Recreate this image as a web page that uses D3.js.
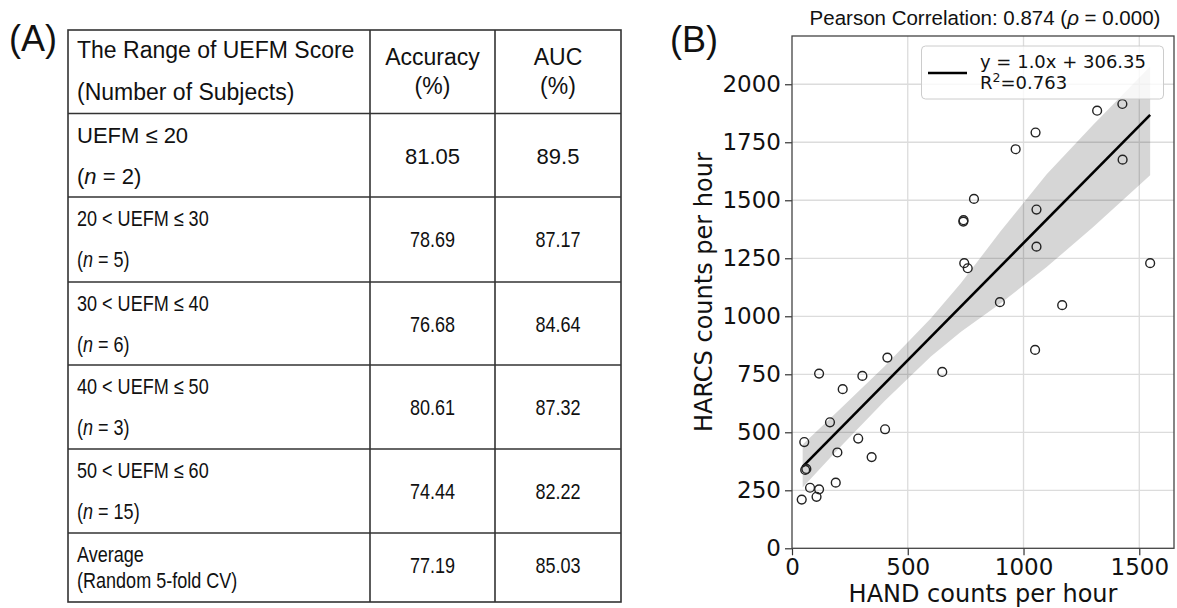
<!DOCTYPE html>
<html>
<head>
<meta charset="utf-8">
<script src="https://cdn.jsdelivr.net/npm/d3@7"></script>
<style>
  body { margin: 0; background: #fff; }
  .tbl text { font-family: "Liberation Sans", Arial, Helvetica, sans-serif; font-size: 22px; fill: #111; }
  .ax text, text.ax { font-family: "DejaVu Sans", sans-serif; }
</style>
</head>
<body>
<script>
// ---- table (A) data ----
const rangeLabels = ['UEFM ≤ 20', '20 < UEFM ≤ 30', '30 < UEFM ≤ 40', '40 < UEFM ≤ 50', '50 < UEFM ≤ 60'];
const subjectCounts = [2, 5, 6, 3, 15];
const accuracy = [81.05, 78.69, 76.68, 80.61, 74.44, 77.19];
const auc = [89.5, 87.17, 84.64, 87.32, 82.22, 85.03];

// ---- scatter (B) data ----
const handCounts  = [42, 57, 62, 53, 78, 106, 117, 117, 164, 196, 189, 219, 286, 304, 344, 402, 412, 649,
                     966, 1428, 786, 740, 741, 1056, 1056, 744, 759, 1547, 898, 1167, 1050, 1318, 1427, 1052];
const harcsCounts = [210, 338, 342, 458, 261, 222, 254, 753, 543, 413, 283, 686, 473, 743, 393, 513, 822, 760,
                     1720, 1675, 1506, 1408, 1414, 1460, 1300, 1229, 1207, 1229, 1061, 1048, 855, 1886, 1915, 1792];
// regression line ends and confidence band
const fitX = [46, 1547];
const fitY = [352, 1868];
const bandX  = [46, 200, 400, 600, 730, 900, 1100, 1300, 1547];
const bandHi = [447, 593, 785, 992, 1143, 1365, 1612, 1824, 2077];
const bandLo = [262, 428, 635, 827, 933, 1055, 1212, 1384, 1608];
const fitSlope = 1.0, fitIntercept = 306.35, fitR2 = 0.763;
const pearsonR = 0.874, pearsonP = 0.000;
const xTicks = [0, 500, 1000, 1500];
const yTicks = [0, 250, 500, 750, 1000, 1250, 1500, 1750, 2000];

const svg = d3.select('body').append('svg')
  .attr('width', 1177).attr('height', 608);

// ================= (A) table =================
let tbl = svg.append('g').attr('class', 'tbl');
let colX = [68, 370, 495, 621];
let rowY = [30, 113.5, 197, 282, 365, 449, 533, 602];

tbl.append('text').attr('x', 9).attr('y', 51)
  .style('font-size', '36px').text('(A)');

tbl.append('rect')
  .attr('x', colX[0]).attr('y', rowY[0])
  .attr('width', colX[3] - colX[0]).attr('height', rowY[7] - rowY[0])
  .attr('fill', 'none').attr('stroke', '#333').attr('stroke-width', 1.6);
tbl.selectAll('line.v').data([colX[1], colX[2]]).enter().append('line')
  .attr('x1', d => d).attr('x2', d => d).attr('y1', rowY[0]).attr('y2', rowY[7])
  .attr('stroke', '#333').attr('stroke-width', 1.6);
tbl.selectAll('line.h').data(rowY.slice(1, 7)).enter().append('line')
  .attr('x1', colX[0]).attr('x2', colX[3]).attr('y1', d => d).attr('y2', d => d)
  .attr('stroke', '#333').attr('stroke-width', 1.6);

let c1 = (colX[1] + colX[2]) / 2;
let c2 = (colX[2] + colX[3]) / 2;

// header
tbl.append('text').attr('x', 77).attr('y', 58).style('font-size', '23px').text('The Range of UEFM Score');
tbl.append('text').attr('x', 77).attr('y', 100).style('font-size', '23px').text('(Number of Subjects)');
tbl.append('text').attr('x', c1).attr('y', 65).attr('text-anchor', 'middle').style('font-size', '23px').text('Accuracy');
tbl.append('text').attr('x', c1).attr('y', 94).attr('text-anchor', 'middle').style('font-size', '23px').text('(%)');
tbl.append('text').attr('x', c2).attr('y', 65).attr('text-anchor', 'middle').style('font-size', '23px').text('AUC');
tbl.append('text').attr('x', c2).attr('y', 94).attr('text-anchor', 'middle').style('font-size', '23px').text('(%)');

// body rows (rows after the first are narrower in the original)
function put(g, x, y, sx, anchor) {
  return g.append('text')
    .attr('transform', `translate(${x},${y}) scale(${sx},1)`)
    .attr('text-anchor', anchor || 'start');
}
for (let i = 0; i < rangeLabels.length; i++) {
  let rowTop = rowY[i + 1];
  let sx = i == 0 ? 1 : 0.82;
  put(tbl, 77, rowTop + 29, sx).text(rangeLabels[i]);
  let t = put(tbl, 77, rowTop + 70, sx);
  t.append('tspan').text('(');
  t.append('tspan').style('font-style', 'italic').text('n');
  t.append('tspan').text(' = ' + subjectCounts[i] + ')');
  put(tbl, c1, rowTop + 50, sx, 'middle').text(String(accuracy[i]));
  put(tbl, c2, rowTop + 50, sx, 'middle').text(String(auc[i]));
}
let lastTop = rowY[6];
put(tbl, 77, lastTop + 29, 0.82).text('Average');
put(tbl, 77, lastTop + 55, 0.82).text('(Random 5-fold CV)');
put(tbl, c1, lastTop + 40, 0.82, 'middle').text(String(accuracy[5]));
put(tbl, c2, lastTop + 40, 0.82, 'middle').text(String(auc[5]));

// ================= (B) scatter =================
let pLeft = 792, pRight = 1174, pTop = 36, pBottom = 548.3;
let xScale = d3.scaleLinear().domain([0, 1650]).range([pLeft, pRight]);
let yScale = d3.scaleLinear().domain([0, 2208]).range([pBottom, pTop]);

svg.append('text').attr('x', 670).attr('y', 52)
  .style('font-family', '"Liberation Sans", Arial, sans-serif')
  .style('font-size', '36px').attr('fill', '#111').text('(B)');

let title = svg.append('text').attr('x', 985).attr('y', 25)
  .attr('text-anchor', 'middle')
  .style('font-family', '"Liberation Sans", Arial, sans-serif')
  .style('font-size', '20.5px').attr('fill', '#111');
title.append('tspan').text('Pearson Correlation: ' + pearsonR.toFixed(3) + ' (');
title.append('tspan').style('font-style', 'italic').text('ρ');
title.append('tspan').text(' = ' + pearsonP.toFixed(3) + ')');

// grid
let grid = svg.append('g');
grid.selectAll('line.gx').data(xTicks.slice(1)).enter().append('line')
  .attr('x1', d => xScale(d)).attr('x2', d => xScale(d)).attr('y1', pTop).attr('y2', pBottom)
  .attr('stroke', '#dcdcdc').attr('stroke-width', 1.3);
grid.selectAll('line.gy').data(yTicks.slice(1)).enter().append('line')
  .attr('y1', d => yScale(d)).attr('y2', d => yScale(d)).attr('x1', pLeft).attr('x2', pRight)
  .attr('stroke', '#dcdcdc').attr('stroke-width', 1.3);

// confidence band
let band = bandX.map((x, i) => ({x: x, lo: bandLo[i], hi: bandHi[i]}));
svg.append('path').datum(band)
  .attr('d', d3.area().x(d => xScale(d.x)).y0(d => yScale(d.lo)).y1(d => yScale(d.hi)))
  .attr('fill', '#000').attr('fill-opacity', 0.16);

// fit line
svg.append('path').datum(fitX.map((x, i) => [x, fitY[i]]))
  .attr('d', d3.line().x(d => xScale(d[0])).y(d => yScale(d[1])))
  .attr('stroke', '#000').attr('stroke-width', 2.6).attr('fill', 'none');

// points
svg.append('g').selectAll('circle')
  .data(handCounts.map((x, i) => ({x: x, y: harcsCounts[i]})))
  .enter().append('circle')
    .attr('cx', d => xScale(d.x)).attr('cy', d => yScale(d.y)).attr('r', 4.4)
    .attr('fill', 'none').attr('stroke', '#222').attr('stroke-width', 1.4);

// axes
let xAxis = d3.axisBottom(xScale).tickValues(xTicks).tickFormat(d3.format('d'))
  .tickSize(7).tickPadding(3);
svg.append('g').attr('class', 'ax')
  .attr('transform', `translate(0, ${pBottom})`)
  .call(xAxis)
  .call(g => g.select('.domain').remove())
  .selectAll('text').style('font-size', '23px').attr('fill', '#111');
let yAxis = d3.axisLeft(yScale).tickValues(yTicks).tickFormat(d3.format('d'))
  .tickSize(7).tickPadding(4);
svg.append('g').attr('class', 'ax')
  .attr('transform', `translate(${pLeft}, 0)`)
  .call(yAxis)
  .call(g => g.select('.domain').remove())
  .selectAll('text').style('font-size', '23px').attr('fill', '#111');
svg.selectAll('.ax .tick line').attr('stroke', '#333').attr('stroke-width', 1.2);

svg.append('rect')
  .attr('x', pLeft).attr('y', pTop).attr('width', pRight - pLeft).attr('height', pBottom - pTop)
  .attr('fill', 'none').attr('stroke', '#444').attr('stroke-width', 1.3);

svg.append('text').attr('class', 'ax')
  .attr('x', 983).attr('y', 601.5).attr('text-anchor', 'middle')
  .style('font-size', '24px').attr('fill', '#111').text('HAND counts per hour');
svg.append('text').attr('class', 'ax')
  .attr('transform', `translate(712, ${(pTop + pBottom) / 2}) rotate(-90)`)
  .attr('text-anchor', 'middle')
  .style('font-size', '24px').attr('fill', '#111').text('HARCS counts per hour');

// legend
let lg = svg.append('g').attr('class', 'ax');
lg.append('rect').attr('x', 921.5).attr('y', 46).attr('width', 242).attr('height', 53).attr('rx', 4)
  .attr('fill', '#fff').attr('fill-opacity', 0.8).attr('stroke', '#ccc');
lg.append('line').attr('x1', 928).attr('x2', 967).attr('y1', 73).attr('y2', 73)
  .attr('stroke', '#000').attr('stroke-width', 2.6);
lg.append('text').attr('x', 980).attr('y', 67.5).style('font-size', '18px').attr('fill', '#111')
  .text('y = ' + fitSlope.toFixed(1) + 'x + ' + fitIntercept.toFixed(2));
let r2 = lg.append('text').attr('x', 980).attr('y', 88.5).style('font-size', '18px').attr('fill', '#111');
r2.append('tspan').text('R');
r2.append('tspan').attr('dy', -7).style('font-size', '12.5px').text('2');
r2.append('tspan').attr('dy', 7).text('=' + fitR2.toFixed(3));
</script>
</body>
</html>
